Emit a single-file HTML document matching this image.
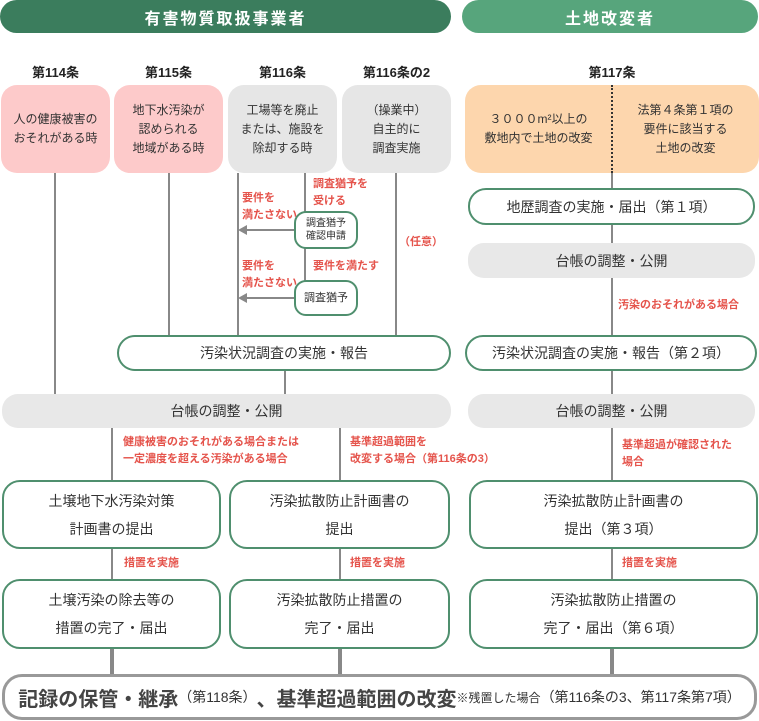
<!DOCTYPE html>
<html><head><meta charset="utf-8"><style>
body{margin:0;width:759px;height:721px;background:#fff;position:relative;overflow:hidden;font-family:"Liberation Sans","Noto Sans CJK JP",sans-serif;color:#333}
div{position:absolute;box-sizing:border-box}
.c{display:flex;align-items:center;justify-content:center;text-align:center}
.hd{color:#fff;font-weight:bold;font-size:16px;border-radius:17px;letter-spacing:2px}
.lab{font-size:13px;font-weight:bold;text-align:center;color:#222}
.pk{background:#fdcaca;border-radius:16px;font-size:12px;line-height:19px}
.gy{background:#e6e6e6;border-radius:16px;font-size:12px;line-height:19px}
.gb{border:2px solid #4f8f6e;background:#fff;border-radius:18px;font-size:14px}
.tb{background:#e8e8e8;border-radius:16px;font-size:14px}
.v{background:#888;width:2px}
.h{background:#888;height:2px}
.r{color:#e5544c;font-size:11px;font-weight:bold;line-height:17px}
.sm{border:2px solid #4f8f6e;background:#fff;border-radius:12px;font-size:10px;line-height:13px}
.big{font-size:14px;line-height:28px}
</style></head><body>
<div class="hd c" style="left:0;top:0;width:451px;height:33px;background:#3b7d5d">有害物質取扱事業者</div>
<div class="hd c" style="left:462px;top:0;width:296px;height:33px;background:#57a57c">土地改変者</div>

<div class="lab" style="left:1px;top:62px;width:109px">第114条</div>
<div class="lab" style="left:114px;top:62px;width:109px">第115条</div>
<div class="lab" style="left:228px;top:62px;width:109px">第116条</div>
<div class="lab" style="left:342px;top:62px;width:109px">第116条の2</div>
<div class="lab" style="left:465px;top:62px;width:294px">第117条</div>

<div class="v" style="left:54px;top:173px;height:222px"></div>
<div class="v" style="left:168px;top:173px;height:162px"></div>
<div class="v" style="left:237px;top:173px;height:162px"></div>
<div class="v" style="left:304px;top:173px;height:110px"></div>
<div class="v" style="left:395px;top:173px;height:162px"></div>
<div class="h" style="left:245px;top:229px;width:50px"></div>
<div class="h" style="left:245px;top:297px;width:50px"></div>
<div style="left:238px;top:225px;width:0;height:0;border-top:5px solid transparent;border-bottom:5px solid transparent;border-right:9px solid #888"></div>
<div style="left:238px;top:293px;width:0;height:0;border-top:5px solid transparent;border-bottom:5px solid transparent;border-right:9px solid #888"></div>
<div class="v" style="left:284px;top:370px;height:25px"></div>
<div class="v" style="left:111px;top:427px;height:53px"></div>
<div class="v" style="left:339px;top:427px;height:53px"></div>
<div class="v" style="left:111px;top:548px;height:32px"></div>
<div class="v" style="left:339px;top:548px;height:32px"></div>
<div class="v" style="left:611px;top:173px;height:307px"></div>
<div class="v" style="left:611px;top:548px;height:32px"></div>
<div class="v" style="left:110px;top:648px;height:28px;width:4px"></div>
<div class="v" style="left:338px;top:648px;height:28px;width:4px"></div>
<div class="v" style="left:610px;top:648px;height:28px;width:4px"></div>

<div class="pk c" style="left:1px;top:85px;width:109px;height:88px">人の健康被害の<br>おそれがある時</div>
<div class="pk c" style="left:114px;top:85px;width:109px;height:88px">地下水汚染が<br>認められる<br>地域がある時</div>
<div class="gy c" style="left:228px;top:85px;width:109px;height:88px">工場等を廃止<br>または、施設を<br>除却する時</div>
<div class="gy c" style="left:342px;top:85px;width:109px;height:88px">（操業中）<br>自主的に<br>調査実施</div>
<div class="c" style="left:465px;top:85px;width:294px;height:88px;background:#fdd6ad;border-radius:16px;font-size:12px;line-height:19px">
<div class="c" style="left:0;top:0;width:147px;height:88px">３０００m²以上の<br>敷地内で土地の改変</div>
<div style="left:146px;top:0;height:88px;border-left:2px dotted #333"></div>
<div class="c" style="left:147px;top:0;width:147px;height:88px">法第４条第１項の<br>要件に該当する<br>土地の改変</div>
</div>

<div class="r" style="left:242px;top:190px">要件を<br>満たさない</div>
<div class="r" style="left:313px;top:176px">調査猶予を<br>受ける</div>
<div class="sm c" style="left:294px;top:211px;width:64px;height:38px">調査猶予<br>確認申請</div>
<div class="r" style="left:242px;top:258px">要件を<br>満たさない</div>
<div class="r" style="left:313px;top:258px">要件を満たす</div>
<div class="sm c" style="left:294px;top:280px;width:64px;height:36px;font-size:11px">調査猶予</div>
<div class="r" style="left:399px;top:234px">（任意）</div>

<div class="gb c" style="left:468px;top:188px;width:287px;height:37px">地歴調査の実施・届出（第１項）</div>
<div class="tb c" style="left:468px;top:243px;width:287px;height:35px">台帳の調整・公開</div>
<div class="r" style="left:618px;top:297px">汚染のおそれがある場合</div>

<div class="gb c" style="left:117px;top:335px;width:334px;height:36px">汚染状況調査の実施・報告</div>
<div class="gb c" style="left:465px;top:335px;width:292px;height:36px">汚染状況調査の実施・報告（第２項）</div>
<div class="tb c" style="left:2px;top:394px;width:449px;height:34px">台帳の調整・公開</div>
<div class="tb c" style="left:468px;top:394px;width:287px;height:34px">台帳の調整・公開</div>

<div class="r" style="left:123px;top:434px">健康被害のおそれがある場合または<br>一定濃度を超える汚染がある場合</div>
<div class="r" style="left:350px;top:434px">基準超過範囲を<br>改変する場合（第116条の3）</div>
<div class="r" style="left:622px;top:437px">基準超過が確認された<br>場合</div>

<div class="gb c big" style="left:2px;top:480px;width:219px;height:69px">土壌地下水汚染対策<br>計画書の提出</div>
<div class="gb c big" style="left:229px;top:480px;width:221px;height:69px">汚染拡散防止計画書の<br>提出</div>
<div class="gb c big" style="left:469px;top:480px;width:289px;height:69px">汚染拡散防止計画書の<br>提出（第３項）</div>
<div class="r" style="left:124px;top:555px">措置を実施</div>
<div class="r" style="left:350px;top:555px">措置を実施</div>
<div class="r" style="left:622px;top:555px">措置を実施</div>
<div class="gb c big" style="left:2px;top:579px;width:219px;height:70px">土壌汚染の除去等の<br>措置の完了・届出</div>
<div class="gb c big" style="left:229px;top:579px;width:221px;height:70px">汚染拡散防止措置の<br>完了・届出</div>
<div class="gb c big" style="left:469px;top:579px;width:289px;height:70px">汚染拡散防止措置の<br>完了・届出（第６項）</div>

<div class="c" style="left:2px;top:674px;width:755px;height:46px;border:3px solid #999;border-radius:20px;background:#fff;white-space:nowrap"><span style="font-size:20px;font-weight:bold;color:#444">記録の保管・継承</span><span style="font-size:14px">（第118条）</span><span style="font-size:20px;font-weight:bold;color:#444">、基準超過範囲の改変</span><span style="font-size:12px">※残置した場合</span><span style="font-size:14px">（第116条の3、第117条第7項）</span></div>
</body></html>
